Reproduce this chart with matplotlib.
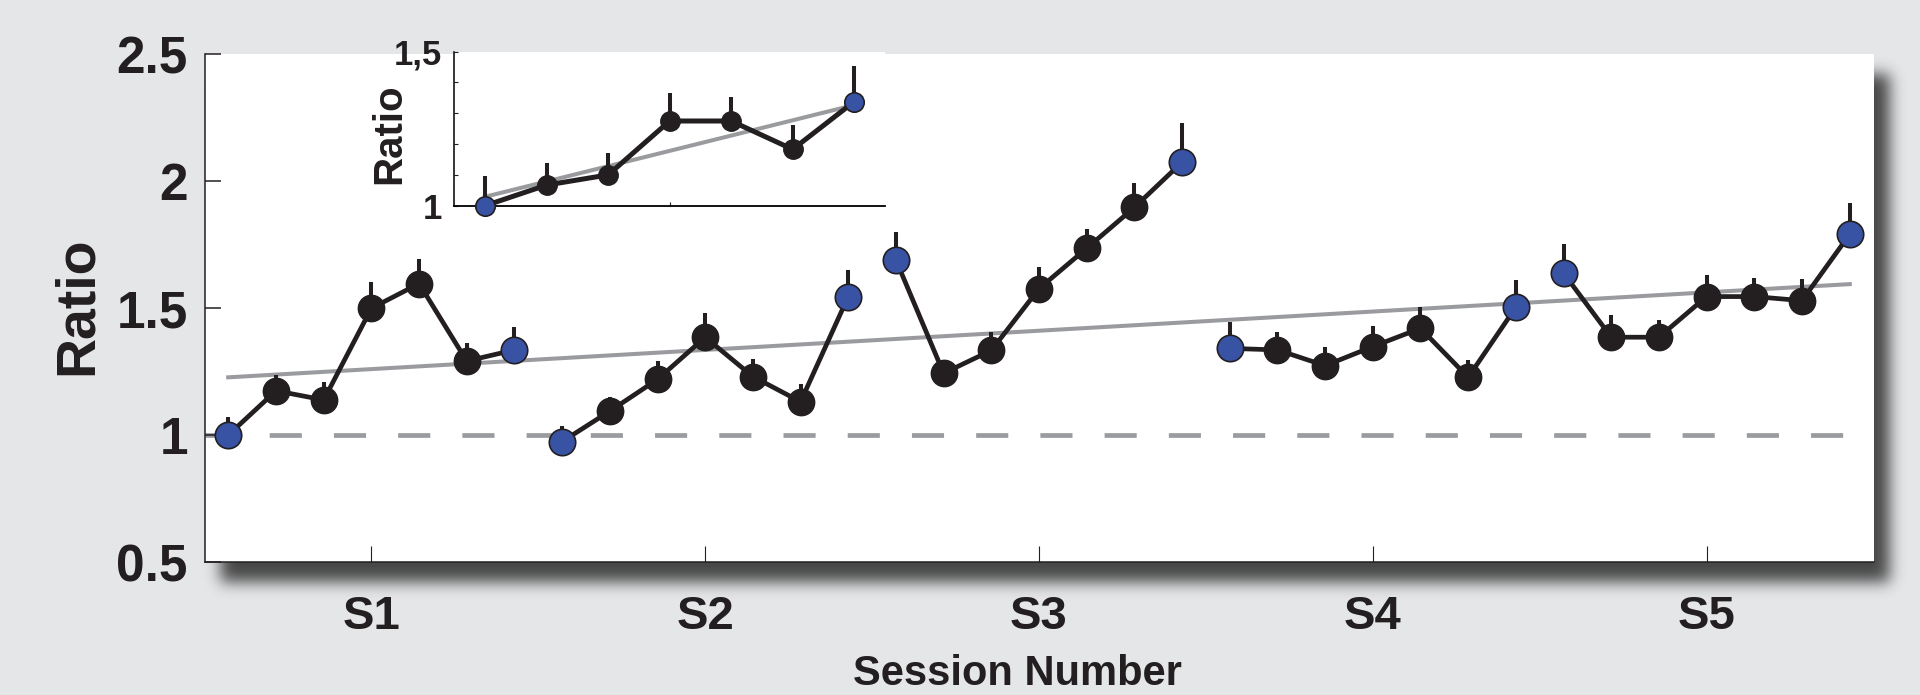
import math
import numpy as np
import matplotlib
matplotlib.use("Agg")
import matplotlib.pyplot as plt

plt.rcParams['font.family'] = ['Liberation Sans', 'DejaVu Sans']
plt.rcParams['font.weight'] = 'bold'

# data
sessions = ['S1', 'S2', 'S3', 'S4', 'S5']
ratio = [
    [1.000, 1.174, 1.138, 1.499, 1.596, 1.291, 1.335],
    [0.974, 1.094, 1.219, 1.385, 1.230, 1.131, 1.545],
    [1.689, 1.243, 1.333, 1.576, 1.735, 1.896, 2.074],
    [1.341, 1.335, 1.273, 1.348, 1.420, 1.227, 1.503],
    [1.637, 1.385, 1.385, 1.545, 1.545, 1.529, 1.790],
]
ratio_err = [
    [0.070, 0.064, 0.070, 0.105, 0.098, 0.072, 0.090],
    [0.060, 0.057, 0.073, 0.095, 0.070, 0.068, 0.105],
    [0.110, 0.045, 0.072, 0.087, 0.075, 0.097, 0.154],
    [0.105, 0.072, 0.075, 0.081, 0.083, 0.068, 0.108],
    [0.114, 0.088, 0.068, 0.085, 0.075, 0.085, 0.122],
]
trend_x = [0.571, 5.429]
trend_y = [1.227, 1.594]

# inset: mean over sessions
inset_day = [1, 2, 3, 4, 5, 6, 7]
inset_ratio = [1.000, 1.067, 1.100, 1.275, 1.275, 1.183, 1.338]
inset_err = [0.096, 0.071, 0.072, 0.090, 0.079, 0.079, 0.117]
inset_trend_x = [1, 7]
inset_trend_y = [1.029, 1.327]

BLACK = '#231f20'
BLUE = '#3953a4'
GRAY = '#9a9b9f'
BG = '#e5e6e8'

W, H = 1920, 695
fig = plt.figure(figsize=(W / 100, H / 100), dpi=100, facecolor=BG)

# drop shadow behind main panel
bx0, bx1, by0, by1 = 204.5, 1873.5, 54, 562
offx, offy, sig = 16, 20, 7.5
erf = np.frompyfunc(math.erf, 1, 1)
px = np.arange(W) + 0.5
py = np.arange(H) + 0.5
s2 = sig * 2 ** 0.5
fx = 0.5 * (erf((px - bx0 - offx) / s2) - erf((px - bx1 - offx) / s2)).astype(float)
fy = 0.5 * (erf((py - by0 - offy) / s2) - erf((py - by1 - offy) / s2)).astype(float)
shadow = np.zeros((H, W, 4))
shadow[..., :3] = 0.1
shadow[..., 3] = 0.78 * np.outer(fy, fx)
sax = fig.add_axes([0, 0, 1, 1], zorder=0)
sax.imshow(shadow, extent=[0, W, H, 0], interpolation='nearest')
sax.set_xlim(0, W)
sax.set_ylim(H, 0)
sax.axis('off')

# main panel
ax = fig.add_axes([bx0 / W, 1 - by1 / H, (bx1 - bx0) / W, (by1 - by0) / H], zorder=1)
ax.set_facecolor('white')
for k in range(5):
    xs = np.array([k + 1 + (j - 3) / 7 for j in range(7)])
    ys = np.array(ratio[k])
    ax.errorbar(xs, ys, yerr=[np.zeros(7), ratio_err[k]], fmt='none',
                ecolor=BLACK, elinewidth=2.9, capsize=0, zorder=2)
    ax.plot(xs, ys, '-', color=BLACK, lw=3.4, zorder=3)
    ax.plot(xs[1:-1], ys[1:-1], 'o', color=BLACK, ms=19, mec=BLACK, mew=1.0, zorder=4)
    ax.plot(xs[[0, -1]], ys[[0, -1]], 'o', color=BLUE, ms=19, mec=BLACK, mew=1.2, zorder=4)
ax.plot(trend_x, trend_y, color=GRAY, lw=2.9, zorder=1)
ax.axhline(1, color=GRAY, lw=3.4, dashes=(6.8, 6.8), zorder=1)

ax.set_xlim(0.5, 5.5)
ax.set_ylim(0.5, 2.5)
ax.set_xticks(range(1, 6))
ax.set_xticklabels(sessions)
ax.set_yticks([0.5, 1, 1.5, 2, 2.5])
ax.set_yticklabels(['0.5', '1', '1.5', '2', '2.5'])
ax.tick_params(axis='y', direction='in', length=11.5, width=1.1, pad=12, labelsize=37, colors=BLACK)
ax.tick_params(axis='x', direction='in', length=11.5, width=0.8, pad=24, labelsize=34, colors=BLACK)
for lab in ax.get_xticklabels() + ax.get_yticklabels():
    lab.set_fontweight('bold')
ax.spines['top'].set_visible(False)
ax.spines['right'].set_visible(False)
ax.spines['left'].set_linewidth(1.1)
ax.spines['bottom'].set_linewidth(1.1)
ax.spines['left'].set_color(BLACK)
ax.spines['bottom'].set_color(BLACK)

fig.text(78 / W, 1 - 306 / H, 'Ratio', rotation=90, ha='center', va='center',
         fontsize=40, fontweight='bold', color=BLACK)
fig.text(1017 / W, 1 / H, 'Session Number', ha='center', va='bottom',
         fontsize=30, fontweight='bold', color=BLACK)

# inset
ix0, ix1, iy0, iy1 = 454.3, 885, 51.7, 205.7
ia = fig.add_axes([ix0 / W, 1 - iy1 / H, (ix1 - ix0) / W, (iy1 - iy0) / H], zorder=2)
ia.set_facecolor('white')
ia.plot(inset_trend_x, inset_trend_y, color=GRAY, lw=2.9, zorder=1, clip_on=False)
ia.errorbar(inset_day, inset_ratio, yerr=[np.zeros(7), inset_err], fmt='none',
            ecolor=BLACK, elinewidth=2.9, capsize=0, zorder=2, clip_on=False)
ia.plot(inset_day, inset_ratio, '-', color=BLACK, lw=3.6, zorder=3, clip_on=False)
ia.plot(inset_day[1:-1], inset_ratio[1:-1], 'o', color=BLACK, ms=14, mec=BLACK, mew=1.0,
        zorder=4, clip_on=False)
ia.plot([inset_day[0], inset_day[-1]], [inset_ratio[0], inset_ratio[-1]], 'o', color=BLUE,
        ms=14, mec=BLACK, mew=1.2, zorder=4, clip_on=False)
ia.set_xlim(0.5, 7.5)
ia.set_ylim(1, 1.5)
ia.set_xticks([4])
ia.set_xticklabels([])
ia.set_yticks([1, 1.1, 1.2, 1.3, 1.4, 1.5])
ia.set_yticklabels(['1', '', '', '', '', '1,5'])
ia.tick_params(axis='both', direction='in', length=3, width=0.8, pad=9, labelsize=25, colors=BLACK)
for lab in ia.get_yticklabels():
    lab.set_fontweight('bold')
ia.spines['top'].set_visible(False)
ia.spines['right'].set_visible(False)
ia.spines['left'].set_linewidth(1.1)
ia.spines['bottom'].set_linewidth(1.3)
fig.text(389 / W, 1 - 134 / H, 'Ratio', rotation=90, ha='center', va='center',
         fontsize=29, fontweight='bold', color=BLACK)

fig.savefig('out.png', dpi=100, facecolor=BG)
